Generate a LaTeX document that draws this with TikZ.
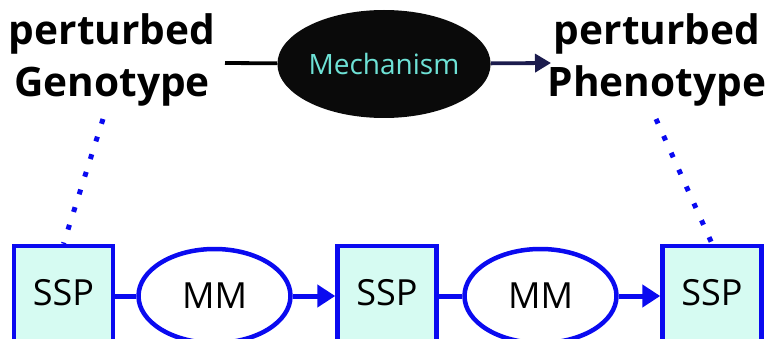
\documentclass[tikz,border=0pt]{standalone}
\usepackage{fontspec}
\setmainfont{Open Sans}
\usetikzlibrary{arrows.meta,shapes.geometric}
\definecolor{bblue}{RGB}{10,10,240}
\definecolor{boxfill}{RGB}{214,251,242}
\definecolor{mechtext}{RGB}{110,226,214}
\definecolor{navy}{RGB}{27,27,77}
\tikzset{
  headtext/.style={inner sep=0pt, align=center, font=\fontsize{40.6}{52}\selectfont\bfseries, anchor=base},
  sspbox/.style={draw=bblue, line width=4.5pt, fill=boxfill, minimum width=99pt, minimum height=100pt, inner sep=0pt, text depth=7pt, font=\fontsize{36}{40}\selectfont},
  mmell/.style={ellipse, draw=bblue, line width=4.5pt, fill=white, minimum width=152pt, minimum height=94pt, inner sep=0pt, font=\fontsize{36}{40}\selectfont},
  blueline/.style={draw=bblue, line width=5pt},
  bluearrow/.style={blueline, -{Triangle[length=18pt,width=22pt]}},
  dotline/.style={draw=bblue, line width=5pt, dash pattern=on 5pt off 13.5pt},
}
\begin{document}
\begin{tikzpicture}[x=1pt,y=-1pt]
\useasboundingbox (0,0) rectangle (765,339);
% top row
\node[headtext] (gen) at (112,97) {perturbed\\Genotype};
\node[headtext] (phen) at (657,97) {perturbed\\Phenotype};
\node[ellipse, fill=black!96, minimum width=212pt, minimum height=108pt, inner sep=0pt,
      text=mechtext, font=\fontsize{28}{32}\selectfont] (mech) at (384,64) {Mechanism};
\coordinate (l0) at (225,63);
\coordinate (l1) at (551,63);
\draw[line width=3.8pt, black] (l0) -- (mech);
\draw[line width=3.8pt, navy, -{Triangle[length=16pt,width=18pt]}] (mech) -- (l1);
% bottom row
\node[sspbox] (s1) at (63.5,296) {SSP};
\node[mmell] (m1) at (214.5,296) {MM};
\node[sspbox] (s2) at (387,296) {SSP};
\node[mmell] (m2) at (540.5,296) {MM};
\node[sspbox] (s3) at (712,296) {SSP};
\draw[blueline] (s1) -- (m1);
\draw[bluearrow] (m1) -- (s2);
\draw[blueline] (s2) -- (m2);
\draw[bluearrow] (m2) -- (s3);
% dotted links
\coordinate (d1) at (103,119);
\coordinate (d2) at (656,119);
\draw[dotline] (d1) -- (s1.north);
\draw[dotline] (d2) -- (s3.north);
\end{tikzpicture}
\end{document}
